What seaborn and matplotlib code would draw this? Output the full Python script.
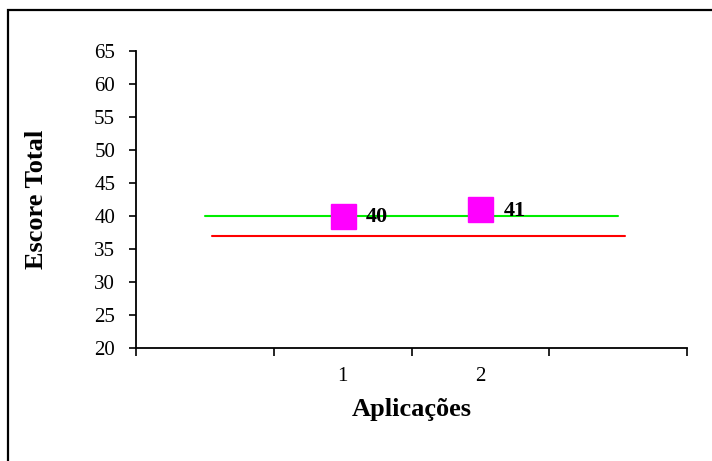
import matplotlib
matplotlib.use("Agg")
import matplotlib.pyplot as plt
from matplotlib.patches import Rectangle
import seaborn as sns
import pandas as pd

# Category slots on the x axis (only the two middle ones carry a label)
categories = ["", "1", "2", ""]
applications = ["1", "2"]
scores = [40, 41]
upper_ref = [40, 40, 40, 40]
lower_ref = [37, 37, 37, 37]
y_ticks = [20, 25, 30, 35, 40, 45, 50, 55, 60, 65]

sns.set_theme(style="white")
plt.rcParams["font.family"] = ["Liberation Serif", "DejaVu Serif"]
plt.rcParams["text.color"] = "black"
plt.rcParams["axes.labelcolor"] = "black"
plt.rcParams["xtick.color"] = "black"
plt.rcParams["ytick.color"] = "black"

fig = plt.figure(figsize=(7.12, 4.61), dpi=100)
ax = fig.add_axes([136 / 712, 1 - 348 / 461, (687 - 136) / 712, (348 - 51) / 461])

slot = list(range(len(categories)))
ref_df = pd.DataFrame({"slot": slot, "upper": upper_ref, "lower": lower_ref})
ref_df["slot_lower"] = ref_df["slot"] + 0.05

sns.lineplot(data=ref_df, x="slot", y="upper", color="#00ee00", linewidth=1.5, ax=ax)
sns.lineplot(data=ref_df, x="slot_lower", y="lower", color="#ff0000", linewidth=1.5, ax=ax)

pts = pd.DataFrame({"slot": [categories.index(a) for a in applications], "score": scores})
ax.plot(pts["slot"], pts["score"], linestyle="none", marker="s", markersize=18,
        markerfacecolor="#ff00ff", markeredgecolor="#ff00ff", zorder=5)
for xs, v in zip(pts["slot"], pts["score"]):
    ax.annotate(f"{v}", (xs, v), xytext=(17, -1), textcoords="offset points",
                ha="left", va="center", fontsize=16, fontweight="bold", color="black")

ax.set_xlim(-0.5, len(categories) - 0.5)
ax.set_ylim(20, 65)
ax.set_yticks(y_ticks)
ax.set_yticklabels([str(t) for t in y_ticks], fontsize=15)

# category boundaries carry tick marks, labels sit centred in each slot
ax.set_xticks([s - 0.5 for s in range(len(categories) + 1)])
ax.set_xticklabels([])
ax.set_xticks(slot, minor=True)
ax.set_xticklabels(categories, minor=True, fontsize=15)
ax.tick_params(axis="x", which="major", direction="out", length=6, width=1.2, bottom=True)
ax.tick_params(axis="x", which="minor", length=0, pad=14)
ax.tick_params(axis="y", direction="out", length=5, width=1.2, left=True, pad=10)

for side in ["top", "right"]:
    ax.spines[side].set_visible(False)
for side in ["left", "bottom"]:
    ax.spines[side].set_color("black")
    ax.spines[side].set_linewidth(1.3)

ax.set_xlabel("Aplicações", fontsize=19, fontweight="bold", labelpad=8)
ax.set_ylabel("Escore Total", fontsize=19, fontweight="bold", labelpad=33)

# outer frame of the chart area
fig.patches.append(Rectangle((8 / 712, -0.1), 1.2, 1 - 10 / 461 + 0.1, transform=fig.transFigure,
                             fill=False, edgecolor="black", linewidth=1.6))

fig.savefig("out.png", dpi=100)
